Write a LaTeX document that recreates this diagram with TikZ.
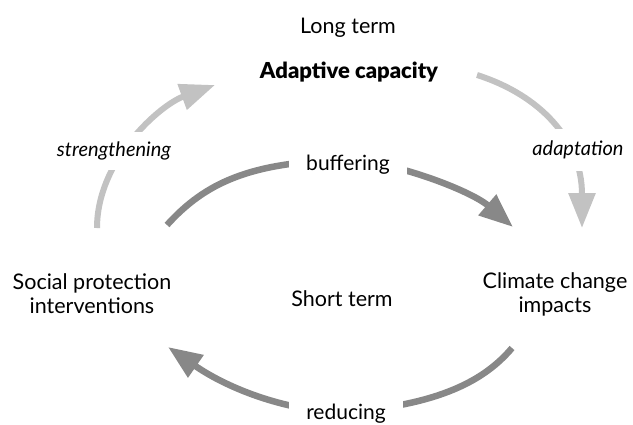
\documentclass[tikz,border=0pt]{standalone}
\usepackage{fontspec}
\setmainfont{Lato}
\IfFontExistsTF{Lato Black}{\newfontfamily\heavyfont{Lato Black}}{%
  \IfFontExistsTF{Lato Heavy}{\newfontfamily\heavyfont{Lato Heavy}}{%
    \IfFontExistsTF{Lato-Black.ttf}{\newfontfamily\heavyfont{Lato-Black.ttf}}{%
      \newfontfamily\heavyfont{Lato}[UprightFont=*-Bold]}}}
\usetikzlibrary{arrows.meta}
\definecolor{outergray}{HTML}{C2C2C2}
\definecolor{innergray}{HTML}{888888}
\tikzset{
  txt/.style={inner sep=0pt, font=\fontsize{21.5}{24}\selectfont, align=center},
  lbl/.style={fill=white, inner xsep=6pt, inner ysep=9pt, font=\fontsize{21}{24}\selectfont},
  itlbl/.style={lbl, inner xsep=4pt, font=\fontsize{20}{24}\selectfont\itshape},
  outerarrow/.style={draw=outergray, line width=6pt, -{Triangle[length=35pt,width=26pt]}},
  innerarrow/.style={draw=innergray, line width=6.5pt, -{Triangle[length=34pt,width=26pt]}},
}
\begin{document}
\begin{tikzpicture}[x=1pt,y=-1pt]
\path[use as bounding box] (0,0) rectangle (633,424);
% arrow end points
\coordinate (s1) at (97,228);
\coordinate (s2) at (215,85);
\coordinate (a1) at (477,75);
\coordinate (a2) at (582,228);
\coordinate (b1) at (167,225);
\coordinate (bm) at (345,160);
\coordinate (b2) at (513,227);
\coordinate (r1) at (512,348);
\coordinate (rm) at (345,412);
\coordinate (r2) at (168,347);
% outer (long term) arrows
\draw[outerarrow] (s1) .. controls (97,160) and (160,105) .. (s2);
\draw[outerarrow] (a1) .. controls (540,95) and (582,140) .. (a2);
% inner (short term) arrows
\draw[innerarrow] (b1) .. controls (205,183) and (250,162) .. (bm)
   .. controls (390,160) and (470,190) .. (b2);
\draw[innerarrow] (r1) .. controls (485,380) and (440,405) .. (rm)
   .. controls (290,412) and (230,390) .. (r2);
% texts
\node[txt] (lt) at (348,28) {Long term};
\node[txt, font=\fontsize{22}{24}\heavyfont] (ac) at (349,72) {Adaptive capacity};
\node[txt] (sp) at (92,294) {Social protection\\interventions};
\node[txt] (sh) at (342,299) {Short term};
\node[txt] (cc) at (555,294) {Climate change\\impacts};
% connector labels
\node[itlbl, inner ysep=10pt] (st) at (114,151) {strengthening};
\node[lbl, inner xsep=17pt] (bu) at (348,165) {buffering};
\node[itlbl, inner ysep=12pt] (ad) at (578,150) {adaptation};
\node[lbl, inner xsep=17pt] (re) at (346,414) {reducing};
\end{tikzpicture}
\end{document}
